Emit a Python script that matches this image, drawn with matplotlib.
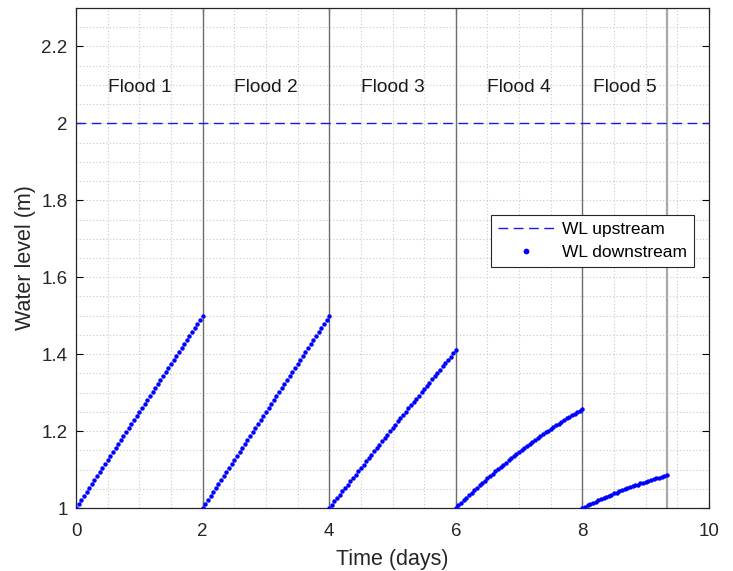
import numpy as np
import matplotlib
matplotlib.use("Agg")
import matplotlib.pyplot as plt
from matplotlib.ticker import MultipleLocator

plt.rcParams['font.family'] = ['Liberation Sans', 'DejaVu Sans']

# Flood start days (hourly samples within each flood)
flood_starts = [0, 2, 4, 6, 8]
flood_labels = ["Flood 1", "Flood 2", "Flood 3", "Flood 4", "Flood 5"]
label_x = [1.0, 3.0, 5.0, 7.0, 8.67]
flood_bounds = [2, 4, 6, 8, 9.333]
upstream_level = 2.0

flood1 = [1.000, 1.010, 1.021, 1.031, 1.042, 1.052, 1.063, 1.073, 1.083, 1.094,
          1.104, 1.115, 1.125, 1.135, 1.146, 1.156, 1.167, 1.177, 1.188, 1.198,
          1.208, 1.219, 1.229, 1.240, 1.250, 1.260, 1.271, 1.281, 1.292, 1.302,
          1.313, 1.323, 1.333, 1.344, 1.354, 1.365, 1.375, 1.385, 1.396, 1.406,
          1.417, 1.427, 1.438, 1.448, 1.458, 1.469, 1.479, 1.490, 1.500]
flood2 = [1.000, 1.010, 1.021, 1.031, 1.042, 1.052, 1.063, 1.073, 1.083, 1.094,
          1.104, 1.115, 1.125, 1.135, 1.146, 1.156, 1.167, 1.177, 1.188, 1.198,
          1.208, 1.219, 1.229, 1.240, 1.250, 1.260, 1.271, 1.281, 1.292, 1.302,
          1.313, 1.323, 1.333, 1.344, 1.354, 1.365, 1.375, 1.385, 1.396, 1.406,
          1.417, 1.427, 1.438, 1.448, 1.458, 1.469, 1.479, 1.490, 1.500]
flood3 = [1.000, 1.009, 1.017, 1.026, 1.035, 1.044, 1.052, 1.061, 1.070, 1.078,
          1.087, 1.096, 1.104, 1.113, 1.122, 1.130, 1.139, 1.147, 1.156, 1.165,
          1.173, 1.182, 1.190, 1.199, 1.207, 1.216, 1.225, 1.233, 1.242, 1.250,
          1.259, 1.267, 1.275, 1.284, 1.292, 1.301, 1.309, 1.318, 1.326, 1.335,
          1.343, 1.351, 1.360, 1.368, 1.376, 1.385, 1.393, 1.402, 1.410]
flood4 = [1.000, 1.007, 1.014, 1.020, 1.027, 1.033, 1.040, 1.046, 1.053, 1.059,
          1.065, 1.071, 1.077, 1.083, 1.089, 1.095, 1.101, 1.107, 1.113, 1.118,
          1.124, 1.130, 1.135, 1.141, 1.146, 1.151, 1.157, 1.162, 1.167, 1.172,
          1.177, 1.182, 1.187, 1.192, 1.197, 1.201, 1.206, 1.210, 1.215, 1.219,
          1.224, 1.228, 1.233, 1.237, 1.241, 1.245, 1.249, 1.253, 1.257]
flood5 = [1.000, 1.003, 1.007, 1.010, 1.013, 1.016, 1.020, 1.023, 1.026, 1.029,
          1.032, 1.035, 1.038, 1.040, 1.043, 1.046, 1.049, 1.051, 1.054, 1.056,
          1.059, 1.061, 1.064, 1.066, 1.068, 1.071, 1.073, 1.075, 1.077, 1.079,
          1.081, 1.083, 1.085]
floods = [flood1, flood2, flood3, flood4, flood5]

xticks = [0, 2, 4, 6, 8, 10]
yticks = [1, 1.2, 1.4, 1.6, 1.8, 2, 2.2]
ytick_labels = ["1", "1.2", "1.4", "1.6", "1.8", "2", "2.2"]

fig = plt.figure(figsize=(7.33, 5.71), dpi=100)
ax = fig.add_axes([0.1037, 0.1103, 0.8636, 0.8757])

ax.set_xlim(0, 10)
ax.set_ylim(1, 2.3)

# grid
ax.xaxis.set_minor_locator(MultipleLocator(0.5))
ax.yaxis.set_minor_locator(MultipleLocator(0.05))
ax.grid(True, which='both', linestyle=(0, (1, 2)), color='#c8c8c8', linewidth=0.8)
ax.set_axisbelow(True)

# flood boundaries
for i, b in enumerate(flood_bounds):
    if i < len(flood_bounds) - 1:
        ax.axvline(b, color='#6e6e6e', linewidth=1.0, zorder=1.5)
    else:
        ax.axvline(b, color='#a8a8a8', linewidth=1.6, zorder=1.5)

# upstream level
ax.axhline(upstream_level, color='#1a1ae6', linewidth=1.0, linestyle=(0, (7, 4)),
           label='WL upstream', zorder=2)

# downstream
for i, (s, vals) in enumerate(zip(flood_starts, floods)):
    t = s + np.arange(len(vals)) / 24.0
    ax.plot(t, vals, linestyle='none', marker='o', markersize=3.2, color='#0000ff',
            markeredgewidth=0, label='WL downstream' if i == 0 else None, zorder=3)

for lx, lab in zip(label_x, flood_labels):
    ax.text(lx, 2.093, lab, ha='center', va='center', fontsize=13.8, color='#1a1a1a')

ax.set_xticks(xticks)
ax.set_xticklabels([str(x) for x in xticks])
ax.set_yticks(yticks)
ax.set_yticklabels(ytick_labels)
ax.tick_params(which='major', direction='in', length=5, top=True, right=True,
               labelsize=13.5, labelcolor='#262626', width=0.8)
ax.tick_params(axis='x', which='major', pad=11)
ax.tick_params(axis='y', which='major', pad=6)
ax.tick_params(which='minor', length=0, top=True, right=True)
for sp in ax.spines.values():
    sp.set_color('#262626')
    sp.set_linewidth(0.9)

ax.set_xlabel('Time (days)', fontsize=15.5, color='#262626', labelpad=6)
ax.set_ylabel('Water level (m)', fontsize=15.5, color='#262626', labelpad=4)

leg = ax.legend(loc='upper left', bbox_to_anchor=(0.656, 0.586), borderaxespad=0,
                fontsize=12.5, frameon=True, fancybox=False, edgecolor='#262626',
                framealpha=1, handlelength=3.2, markerscale=1.3, borderpad=0.4,
                labelspacing=0.45, handletextpad=0.5)
leg.get_frame().set_linewidth(0.8)

fig.savefig('out.png', dpi=100)
